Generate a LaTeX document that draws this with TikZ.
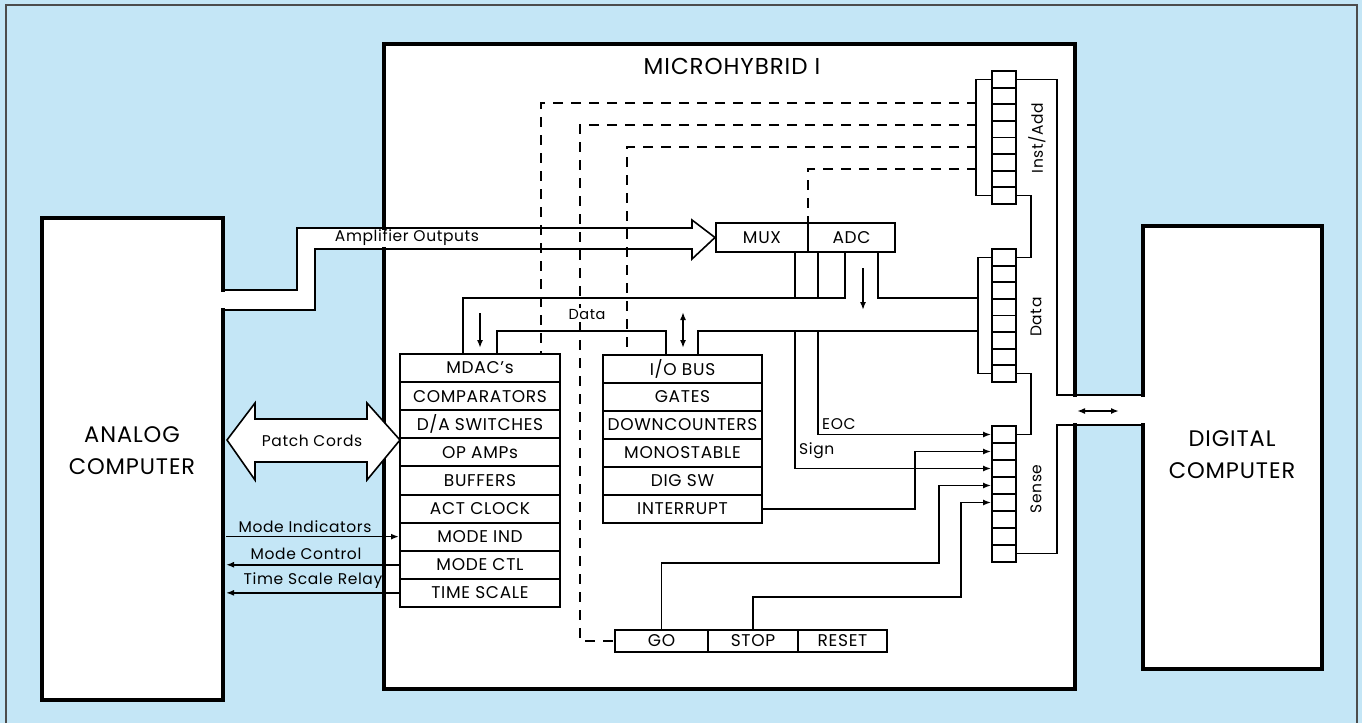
\documentclass[tikz,border=0pt]{standalone}
\usepackage{fontspec}
\setmainfont{Poppins}[LetterSpace=4]
\usetikzlibrary{arrows.meta}
\definecolor{bgblue}{RGB}{196,230,246}
\begin{document}
\begin{tikzpicture}[x=1pt,y=-1pt,
  every node/.style={inner sep=0pt},
  ln/.style={line width=1.6pt, line join=miter},
  arr/.style={ln, -{Latex[length=8pt,width=6pt]}},
  dbl/.style={ln, {Latex[length=8pt,width=6pt]}-{Latex[length=8pt,width=6pt]}},
  dsh/.style={line width=1.8pt, dash pattern=on 10pt off 8pt},
  heavy/.style={line width=3.5pt, line join=miter, line cap=rect},
  rowbox/.style={draw, line width=2pt, fill=white, minimum height=28.1pt, font=\fontsize{17}{17}\selectfont},
  colA/.style={rowbox, minimum width=160pt},
  colB/.style={rowbox, minimum width=159pt, minimum height=28pt},
  smallbox/.style={draw, line width=2pt, fill=white, font=\fontsize{17}{17}\selectfont},
  slot/.style={draw, line width=1.8pt, fill=white, minimum width=24pt, minimum height=16.6pt},
  lbl/.style={font=\fontsize{15.5}{15.5}\selectfont},
  big/.style={font=\fontsize{22.5}{32}\selectfont, align=center},
]
\useasboundingbox (0,0) rectangle (1362,723);
\fill[bgblue] (0,0) rectangle (1362,723);
\draw[line width=1.2pt, black!70] (6,723) -- (6,5) -- (1357,5) -- (1357,723);

% white areas
\fill[white] (42,218) rectangle (223,700);
\fill[white] (384,44) rectangle (1075,689);
\fill[white] (1143,226) rectangle (1322,669);
\fill[white] (221,290) -- (297,290) -- (297,228) -- (692,228) -- (692,220) -- (716,238) -- (692,259) -- (692,249) -- (315,249) -- (315,310) -- (221,310) -- cycle;
\fill[white] (1073,395) rectangle (1145,425);

% heavy borders
\draw[heavy] (223,290) -- (223,218) -- (42,218) -- (42,700) -- (223,700) -- (223,310);
\draw[heavy] (384,228) -- (384,44) -- (1075,44) -- (1075,395);
\draw[heavy] (1075,425) -- (1075,689) -- (384,689) -- (384,249);
\draw[heavy] (1143,395) -- (1143,226) -- (1322,226) -- (1322,669) -- (1143,669) -- (1143,425);

% big labels
\node[big] (analog) at (132,451) {ANALOG\\COMPUTER};
\node[big] (digital) at (1232,455) {DIGITAL\\COMPUTER};
\node[font=\fontsize{23}{23}\selectfont] (micro) at (732,66) {MICROHYBRID I};

% MDAC column
\node[colA] (mdac)   at (480,368.05) {MDAC's};
\node[colA] (comp)   at (480,396.15) {COMPARATORS};
\node[colA] (dasw)   at (480,424.25) {D/A SWITCHES};
\node[colA] (opamp)  at (480,452.35) {OP AMPs};
\node[colA] (buf)    at (480,480.45) {BUFFERS};
\node[colA] (actclk) at (480,508.55) {ACT CLOCK};
\node[colA] (modeind) at (480,536.65) {MODE IND};
\node[colA] (modectl) at (480,564.75) {MODE CTL};
\node[colA] (tscale) at (480,592.85) {TIME SCALE};

% I/O column
\node[colB] (iobus)  at (682.5,369) {I/O BUS};
\node[colB] (gates)  at (682.5,397) {GATES};
\node[colB] (dcnt)   at (682.5,425) {DOWNCOUNTERS};
\node[colB] (mono)   at (682.5,453) {MONOSTABLE};
\node[colB] (digsw)  at (682.5,481) {DIG SW};
\node[colB] (intr)   at (682.5,509) {INTERRUPT};

% MUX / ADC
\node[smallbox, minimum width=92pt, minimum height=29pt] (mux) at (762,237.5) {MUX};
\node[smallbox, minimum width=87pt, minimum height=29pt] (adc) at (851.5,237.5) {ADC};

% GO / STOP / RESET
\node[smallbox, minimum width=93pt, minimum height=22pt] (go) at (661.5,641) {GO};
\node[smallbox, minimum width=90pt, minimum height=22pt] (stop) at (753,641) {STOP};
\node[smallbox, minimum width=89pt, minimum height=22pt] (reset) at (842.5,641) {RESET};

% registers
\foreach \i in {1,...,8} {
  \node[slot] (ia\i) at (1004,{71+16.6*(\i-0.5)}) {};
  \node[slot] (da\i) at (1004,{249+16.6*(\i-0.5)}) {};
  \node[slot] (se\i) at (1004,{426+17*(\i-0.5)}) {};
}
\node[lbl, rotate=90] (lia) at (1037,138) {Inst/Add};
\node[lbl, rotate=90] (lda) at (1036,317) {Data};
\node[lbl, rotate=90] (lse) at (1036,489) {Sense};

% brackets and register chain
\draw[ln] (ia1.west) -- ++(-15,0) |- (ia8.west);
\draw[ln] (da1.west) -- ++(-13,0) |- (da8.west);
\draw[ln] (ia8.east) -- ++(14,0) |- (da1.east);
\draw[ln] (da8.east) -- ++(14,0) |- (se1.east);

% bus to digital computer
\coordinate (busA) at (1057,395);
\coordinate (busB) at (1057,425);
\coordinate (dw) at (1143,0);
\draw[ln] (ia1.east) -| (busA) -- (dw |- busA);
\draw[ln] (se8.east) -| (busB) -- (dw |- busB);
\draw[dbl] (1077,411) -- (1119,411);

% amplifier outputs channel
\draw[ln] (223,290) -- (297,290) -- (297,228) -- (692,228) -- (692,220) -- (mux.west) -- (692,259) -- (692,249) -- (315,249) -- (315,310) -- (223,310);
\node[lbl] (ampl) at (407,238) {Amplifier Outputs};

% patch cords
\draw[ln, fill=white] (227,440) -- (255,403) -- (255,419) -- (367,419) -- (367,403) -- (400,440) -- (367,480) -- (367,462) -- (255,462) -- (255,480) -- cycle;
\node[lbl] (patch) at (312,441) {Patch Cords};

% mode lines
\coordinate (xal) at (226,0);
\draw[arr] (xal |- modeind.west) -- (modeind.west);
\draw[arr] (modectl.west) -- (xal |- modectl.west);
\draw[arr] (tscale.west) -- (xal |- tscale.west);
\node[lbl] (lmi) at (305,527) {Mode Indicators};
\node[lbl] (lmc) at (306,554) {Mode Control};
\node[lbl] (lts) at (313,581) {Time Scale Relay};

% dashed control lines
\coordinate (xd1) at (541,0);
\coordinate (xd2) at (580,0);
\coordinate (xd3) at (627,0);
\coordinate (xd4) at (808,0);
\draw[dsh] (977,103) -| (xd1 |- mdac.north);
\draw[dsh] (977,125) -| (xd2 |- go.west) -- (go.west);
\draw[dsh] (977,147) -| (xd3 |- iobus.north);
\draw[dsh] (977,169) -| (xd4 |- mux.north);

% data buses
\coordinate (xm1) at (463,0);
\coordinate (xm2) at (497,0);
\coordinate (xi1) at (666,0);
\coordinate (xi2) at (698,0);
\coordinate (xsg) at (795,0);
\coordinate (xeoc) at (818,0);
\coordinate (xa3) at (845,0);
\coordinate (xa4) at (878,0);
\coordinate (xdb) at (979,0);
\coordinate (yup) at (0,298);
\coordinate (ylo) at (0,331);
\draw[ln] (xm1 |- mdac.north) |- (xa3 |- yup) -- (xa3 |- adc.south);
\draw[ln] (xsg |- mux.south) -- (xsg |- yup);
\draw[ln] (xeoc |- adc.south) -- (xeoc |- yup);
\draw[ln] (xa4 |- adc.south) |- (xdb |- yup);
\draw[ln] (xm2 |- mdac.north) |- (xi1 |- ylo) -- (xi1 |- iobus.north);
\draw[ln] (xi2 |- iobus.north) |- (xdb |- ylo);
\node[font=\fontsize{14.5}{14.5}\selectfont, fill=white, inner sep=2pt] (ldata) at (587,315) {Data};

% direction arrows
\draw[arr] (480,313) -- (480,348);
\draw[arr] (863,268) -- (863,310);
\draw[dbl] (683,312) -- (683,348);

% sense inputs
\coordinate (xir) at (915,0);
\coordinate (xgo) at (939,0);
\coordinate (xst) at (961,0);
\draw[arr] (xeoc |- ylo) |- (se1.west);
\draw[arr] (xsg |- ylo) |- (se3.west);
\draw[arr] (intr.east) -| (xir |- se2.west) -- (se2.west);
\draw[arr] (go.north) |- (xgo |- 0,563) |- (se4.west);
\draw[arr] (stop.north) |- (xst |- 0,597) |- (se5.west);
\node[lbl, anchor=south west] (leoc) at (822,430) {EOC};
\node[lbl, anchor=west] (lsign) at (799,451) {Sign};
\end{tikzpicture}
\end{document}
